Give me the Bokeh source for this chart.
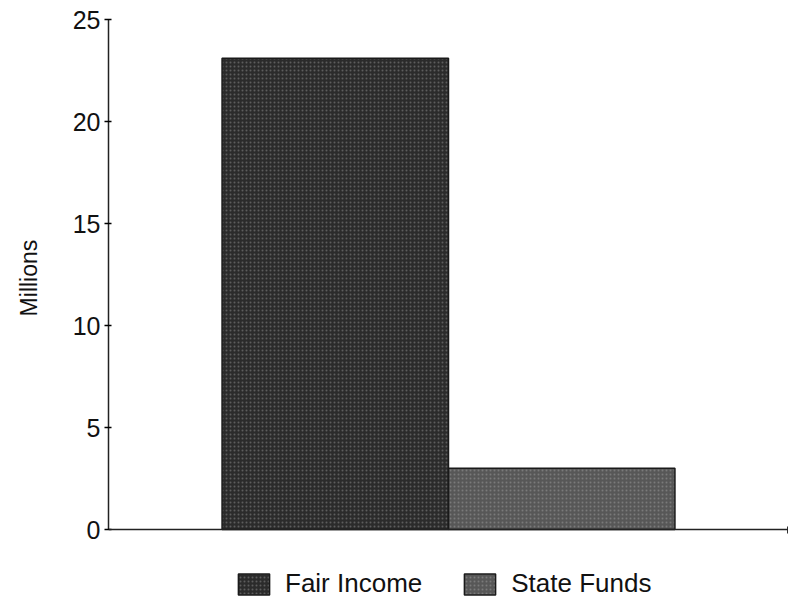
from bokeh.plotting import figure
from bokeh.models import Range1d, FixedTicker, Legend, LegendItem, ColumnDataSource, Span
from bokeh.embed import file_html
from bokeh.resources import INLINE

series = ["Fair Income", "State Funds"]
values = [23.1, 3.0]
colors = ["#2b2b2b", "#575757"]
y_ticks = [0, 5, 10, 15, 20, 25]
y_min, y_max = 0, 25
y_title = "Millions"

FONT = "Liberation Sans"

# frame reaches down to the bottom edge so the legend can sit inside it
px_per_unit = 510 / (y_max - y_min)
below_px = 71
p = figure(frame_width=680, frame_height=510 + below_px, output_backend="svg",
           toolbar_location=None,
           x_range=Range1d(0, 1), y_range=Range1d(y_min - below_px / px_per_unit, y_max),
           min_border_left=108, min_border_right=0, min_border_top=19,
           min_border_bottom=0)
p.outline_line_color = None
p.xgrid.visible = False
p.ygrid.visible = False
p.xaxis.visible = False
p.background_fill_color = "white"
p.border_fill_color = "white"

group_center = 0.5
bar_w = 0.333
items = []
for i, (name, v, c) in enumerate(zip(series, values, colors)):
    xc = group_center + (i - (len(series) - 1) / 2) * bar_w
    src = ColumnDataSource(dict(x=[xc], top=[v]))
    r = p.vbar(x="x", top="top", bottom=y_min, width=bar_w, source=src,
               fill_color=c, line_color="#1a1a1a", line_width=1.5,
               hatch_pattern=".", hatch_color="#bbbbbb", hatch_alpha=0.35,
               hatch_scale=4, hatch_weight=1)
    items.append(LegendItem(label=name, renderers=[r]))

# baseline (x axis line)
p.add_layout(Span(location=y_min, dimension="width", line_color="#222222", line_width=1.5))
# small tick at the right end of the baseline
p.segment(x0=[p.x_range.end - 0.001], x1=[p.x_range.end - 0.001],
          y0=[y_min - 4 / px_per_unit], y1=[y_min + 3 / px_per_unit],
          line_color="#222222", line_width=1.5)

# y axis (leading no-break spaces centre the title over the 0-25 span)
p.yaxis.bounds = (y_min, y_max)
p.yaxis.ticker = FixedTicker(ticks=y_ticks)
p.yaxis.axis_label = "\u00a0" * 10 + y_title
p.yaxis.axis_label_text_font = FONT
p.yaxis.axis_label_text_font_size = "23px"
p.yaxis.axis_label_text_font_style = "normal"
p.yaxis.axis_label_text_color = "#111111"
p.yaxis.axis_label_standoff = 28
p.yaxis.major_label_text_font = FONT
p.yaxis.major_label_text_font_size = "25px"
p.yaxis.major_label_text_color = "#111111"
p.yaxis.major_tick_in = 3
p.yaxis.major_tick_out = 4
p.yaxis.minor_tick_line_color = None
p.yaxis.axis_line_color = "#222222"
p.yaxis.axis_line_width = 1.5
p.yaxis.major_tick_line_width = 1.5
p.yaxis.major_label_standoff = 4

legend = Legend(items=items, orientation="horizontal", location=(126, 1),
                label_text_font=FONT, label_text_font_size="26px",
                label_text_color="#111111",
                glyph_width=39, glyph_height=26, spacing=38,
                label_standoff=12, border_line_color=None,
                background_fill_alpha=0,
                padding=0, margin=0)
p.add_layout(legend, "center")

open("out.html", "w").write(file_html(p, INLINE))
